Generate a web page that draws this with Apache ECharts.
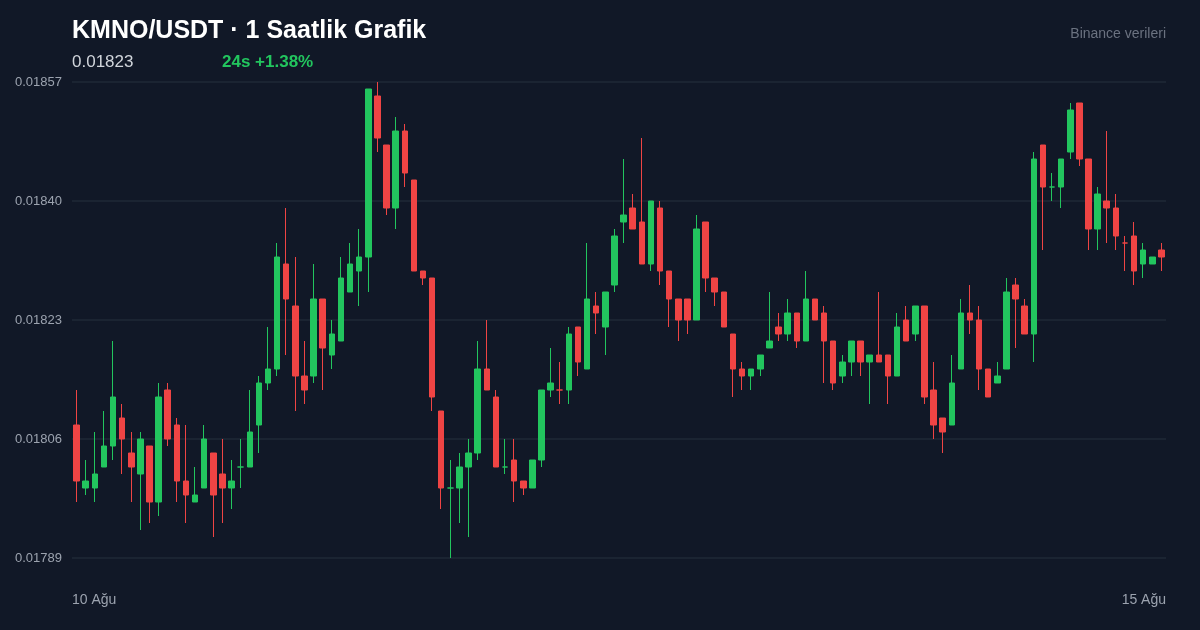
<!DOCTYPE html>
<html><head><meta charset="utf-8">
<script src="https://cdn.jsdelivr.net/npm/echarts@6/dist/echarts.min.js"></script>
<style>html,body{margin:0;background:#111827;}#c{width:1200px;height:630px;}</style>
</head><body><div id="c"></div>
<script>
// OHLC in units of 1e-5
const opens  = [1808,1799,1799,1802,1805,1809,1804,1801,1805,1797,1813,1808,1800,1797,1799,1804,1801,1799,1802,1802,
1808,1814,1816,1831,1825,1815,1815,1826,1818,1820,1827,1830,1832,1855,1848,1839,1850,1843,1830,1829,
1810,1799,1799,1802,1804,1816,1812,1802,1803,1800,1799,1803,1813,1813,1813,1822,1816,1825,1822,1828,
1837,1839,1837,1831,1839,1830,1826,1826,1823,1837,1829,1827,1821,1816,1815,1816,1819,1822,1821,1824,
1820,1826,1824,1820,1815,1817,1820,1817,1818,1818,1815,1823,1821,1825,1813,1809,1808,1816,1824,1823,
1816,1814,1816,1828,1825,1821,1848,1842,1842,1847,1854,1846,1836,1840,1839,1834,1835,1831,1831,1833];
const closes = [1800,1800,1801,1805,1812,1806,1802,1806,1797,1812,1806,1800,1798,1798,1806,1798,1799,1800,1802,1807,
1814,1816,1832,1826,1815,1813,1826,1819,1821,1829,1831,1832,1856,1849,1839,1850,1844,1830,1829,1812,
1799,1799,1802,1804,1816,1813,1802,1802,1800,1799,1803,1813,1814,1813,1821,1817,1826,1824,1827,1835,
1838,1836,1831,1840,1830,1826,1823,1823,1836,1829,1827,1822,1816,1815,1816,1818,1820,1821,1824,1820,
1826,1823,1820,1814,1817,1820,1817,1818,1817,1815,1822,1820,1825,1812,1808,1807,1814,1824,1823,1816,
1812,1815,1827,1826,1821,1846,1842,1842,1846,1853,1846,1836,1841,1839,1835,1834,1830,1833,1832,1832];
const lows   = [1797,1798,1797,1802,1803,1801,1797,1793,1794,1795,1805,1797,1794,1797,1799,1792,1794,1796,1799,1802,
1804,1813,1815,1818,1810,1811,1814,1813,1816,1820,1827,1825,1827,1847,1838,1836,1842,1830,1828,1810,
1796,1789,1794,1792,1803,1813,1802,1801,1797,1798,1799,1802,1812,1811,1811,1815,1816,1821,1818,1827,
1834,1836,1831,1830,1828,1822,1820,1821,1823,1827,1825,1822,1812,1813,1813,1815,1819,1820,1820,1819,
1820,1823,1814,1813,1814,1815,1815,1811,1817,1811,1815,1820,1820,1811,1806,1804,1808,1816,1821,1813,
1812,1814,1816,1819,1821,1817,1833,1840,1839,1846,1845,1833,1833,1834,1833,1830,1828,1829,1831,1830];
const highs  = [1813,1803,1807,1810,1820,1811,1807,1807,1805,1814,1814,1809,1808,1802,1808,1804,1806,1803,1806,1813,
1815,1822,1834,1839,1832,1820,1831,1826,1823,1832,1834,1836,1856,1857,1848,1852,1851,1843,1830,1829,
1810,1803,1804,1806,1820,1823,1813,1806,1806,1800,1803,1813,1819,1817,1822,1822,1834,1827,1827,1836,
1846,1841,1849,1840,1840,1830,1826,1826,1838,1837,1829,1827,1821,1817,1816,1818,1827,1824,1826,1824,
1830,1826,1825,1820,1818,1820,1820,1818,1827,1818,1824,1825,1825,1825,1817,1809,1818,1826,1828,1825,
1816,1817,1829,1829,1826,1847,1848,1844,1846,1854,1854,1846,1842,1850,1841,1835,1837,1834,1832,1834];
const yTicks = [0.01789,0.01806,0.01823,0.01840,0.01857];
const categories = opens.map((_, i) => 'h' + i);
const xLabels = ['10 Ağu', '15 Ağu'];

const s = v => v / 100000;
const data = opens.map((o, i) => [s(o), s(closes[i]), s(lows[i]), s(highs[i])]);
const F = '"Liberation Sans", Arial, sans-serif';

const chart = echarts.init(document.getElementById('c'));
chart.setOption({
  backgroundColor: '#111827',
  animation: false,
  title: [
    {text: 'KMNO/USDT · 1 Saatlik Grafik', left: 67, top: 14,
     textStyle: {color: '#ffffff', fontSize: 25, fontWeight: 'bold', fontFamily: F}},
    {text: 'Binance verileri', right: 29, top: 22,
     textStyle: {color: '#6b7280', fontSize: 14, fontWeight: 'normal', fontFamily: F}},
    {text: '0.01823', left: 67, top: 49,
     textStyle: {color: '#d1d5db', fontSize: 17, fontWeight: 'normal', fontFamily: F}},
    {text: '24s +1.38%', left: 217, top: 49,
     textStyle: {color: '#22c55e', fontSize: 17, fontWeight: 'bold', fontFamily: F}}
  ],
  grid: {left: 72, right: 34, top: 82, bottom: 72},
  xAxis: [{
    type: 'category', data: categories, boundaryGap: true,
    axisLine: {show: false}, axisTick: {show: false}, splitLine: {show: false},
    axisLabel: {show: false}
  }, {
    type: 'value', position: 'bottom', min: 0, max: 1, interval: 1,
    axisLine: {show: false}, axisTick: {show: false}, splitLine: {show: false},
    axisLabel: {color: '#9ca3af', fontSize: 14, margin: 35, fontFamily: F,
      formatter: v => xLabels[v], alignMinLabel: 'left', alignMaxLabel: 'right'}
  }],
  yAxis: {
    type: 'value', min: yTicks[0], max: yTicks[4], interval: 0.00017,
    axisLine: {show: false}, axisTick: {show: false},
    splitLine: {lineStyle: {color: '#1f2937', width: 1.5}},
    axisLabel: {color: '#9ca3af', fontSize: 13, margin: 10, fontFamily: F,
      formatter: v => v.toFixed(5)}
  },
  series: [{
    type: 'candlestick', data: data, barWidth: 6, xAxisIndex: 0,
    itemStyle: {color: '#22c55e', color0: '#ef4444', borderColor: '#22c55e', borderColor0: '#ef4444', borderWidth: 1}
  }]
});
</script></body></html>
